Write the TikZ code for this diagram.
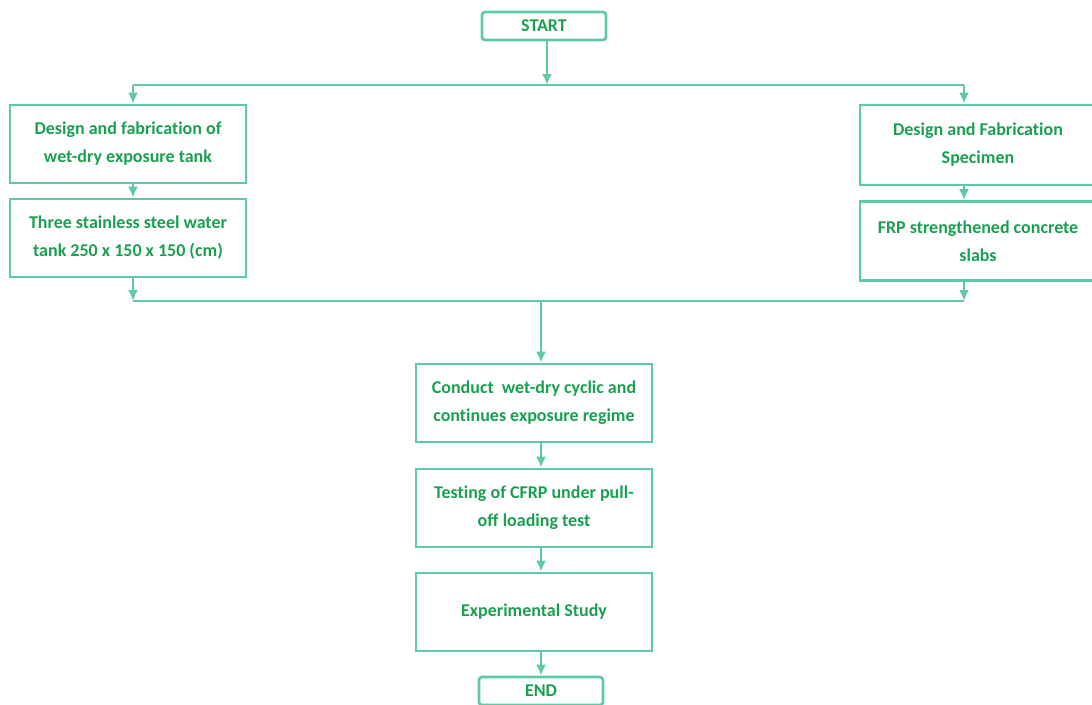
\documentclass[tikz,border=0pt]{standalone}
\usepackage{fontspec}
\setmainfont{Carlito}[Ligatures=NoCommon]
\usepackage{tikz}
\usetikzlibrary{arrows.meta}
\definecolor{linegreen}{RGB}{94,201,166}
\definecolor{textgreen}{RGB}{26,160,80}
\tikzset{
    box/.style={draw=linegreen, line width=2.6pt, minimum width=236pt, minimum height=78pt, align=center, text=textgreen, font=\bfseries\fontsize{18}{28}\selectfont},
    term/.style={box, rounded corners=3pt, minimum width=124pt, minimum height=28pt},
    bus/.style={draw=linegreen, line width=2.8pt},
    ->-/.style={bus, -{Latex[length=11pt,width=10pt]}}
}
\begin{document}
\begin{tikzpicture}[x=1pt,y=-1pt]
\clip (0,0) rectangle (1092,704);
\fill[white] (0,0) rectangle (1092,704);
% boxes
\node[term] (start) at (544,26) {START};
\node[box] (tank) at (128,144) {Design and fabrication of\\wet-dry exposure tank};
\node[box] (water) at (128,238) {Three stainless steel water\\tank 250 x 150 x 150 (cm)};
\node[box, minimum height=80pt] (design) at (978,145) {Design and Fabrication\\Specimen};
\node[box, minimum height=79pt] (slabs) at (978,241) {FRP strengthened concrete\\slabs};
\node[box] (conduct) at (534,403) {Conduct\hspace{0.45em}wet-dry cyclic and\\continues exposure regime};
\node[box] (testing) at (534,508) {Testing of CFRP under pull-\\off loading test};
\node[box] (study) at (534,612) {Experimental Study};
\node[term] (finish) at (541,691) {END};
% bus lines
\foreach \p/\x/\y in {topL/133/85, topC/547/85, topR/964/85, botL/133/301, botC/541/301, botR/964/301}{
    \coordinate (\p) at (\x,\y);
}
\draw[bus] (topL) -- (topR);
\draw[bus] (botL) -- (botR);
\draw[->-] (start.south -| topC) -- (topC);
\draw[->-] (topL) -- (topL |- tank.north);
\draw[->-] (topR) -- (topR |- design.north);
\draw[->-] (tank.south -| topL) -- (water.north -| topL);
\draw[->-] (design.south -| topR) -- (slabs.north -| topR);
\draw[->-] (water.south -| botL) -- (botL);
\draw[->-] (slabs.south -| botR) -- (botR);
\draw[->-] (botC) -- (conduct.north -| botC);
\draw[->-] (conduct.south -| botC) -- (testing.north -| botC);
\draw[->-] (testing.south -| botC) -- (study.north -| botC);
\draw[->-] (study.south -| botC) -- (finish.north -| botC);
\end{tikzpicture}
\end{document}
